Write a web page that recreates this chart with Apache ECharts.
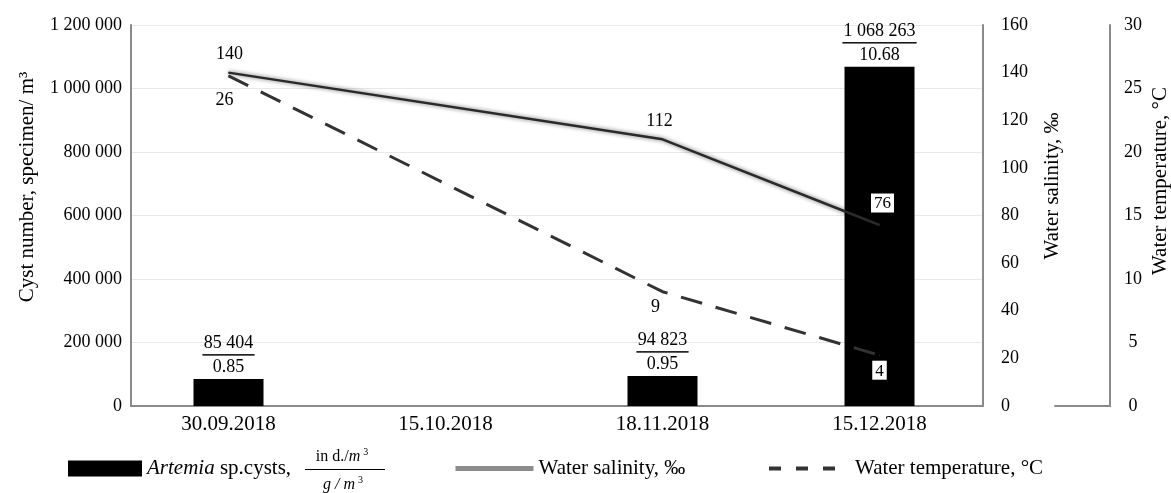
<!DOCTYPE html>
<html>
<head>
<meta charset="utf-8">
<script src="https://cdn.jsdelivr.net/npm/echarts@6/dist/echarts.min.js"></script>
<style>
html,body{margin:0;padding:0;background:#fff;}
#chart{width:1171px;height:493px;}
</style>
</head>
<body>
<div id="chart"></div>
<script>
const categories = ['30.09.2018', '15.10.2018', '18.11.2018', '15.12.2018'];
const cystCounts = [85404, null, 94823, 1068263];
const cystBiomass = [0.85, null, 0.95, 10.68];
const salinity = [140, null, 112, 76];
const temperature = [26, null, 9, 4];
const seriesNames = ['Artemia sp.cysts,', 'Water salinity, ‰', 'Water temperature, °C'];
const axisNames = ['Cyst number, specimen/ m³', 'Water salinity, ‰', 'Water temperature, °C'];
const cystAxis = {min: 0, max: 1200000, interval: 200000};
const salAxis = {min: 0, max: 160, interval: 20};
const tempAxis = {min: 0, max: 30, interval: 5};

const FONT = '"Liberation Serif", "Times New Roman", serif';
const fmtSpace = v => String(v).replace(/\B(?=(\d{3})+(?!\d))/g, ' ');
const AXIS_GRAY = '#8a8a8a';

const chart = echarts.init(document.getElementById('chart'));

const barData = cystCounts.map((v, i) => v == null ? null : {value: v, biomass: cystBiomass[i]});
const boxLabel = {
  color: '#000', backgroundColor: '#fff', borderColor: '#000', borderWidth: 1,
  padding: [2, 3, 0, 3], fontFamily: FONT, fontSize: 17
};
const salData = salinity.map((v, i) => {
  if (v == null) return null;
  if (i === salinity.length - 1) return {value: v, label: Object.assign({position: 'top', distance: 12, offset: [3, 0]}, boxLabel)};
  if (i === 0) return {value: v, label: {offset: [1, 0]}};
  return {value: v, label: {offset: [-3, 0]}};
});
const tempData = temperature.map((v, i) => {
  if (v == null) return null;
  if (i === temperature.length - 1) return {value: v, label: Object.assign({position: 'bottom', distance: 5, offset: [0, 0]}, boxLabel)};
  if (i === 0) return {value: v, label: {distance: 15, offset: [-4, 0]}};
  return {value: v, label: {distance: 6, offset: [-7, 0]}};
});

const hiddenY = r => ({type: 'value', gridIndex: 0, min: r.min, max: r.max, interval: r.interval, show: false, splitLine: {show: false}});

const option = {
  backgroundColor: '#fff',
  animation: false,
  grid: [
    {left: 120, right: 183, top: 25, bottom: 87},
    {left: 1055, right: 61, top: 25, bottom: 87},
    {left: 131, right: 188, top: 25, bottom: 87}
  ],
  xAxis: [
    {
      type: 'category', data: categories, gridIndex: 0, boundaryGap: true,
      axisLine: {show: false},
      axisTick: {show: false},
      axisLabel: {color: '#000', fontFamily: FONT, fontSize: 21, margin: 8}
    },
    {
      type: 'value', gridIndex: 1, min: 0, max: 1,
      axisLine: {show: true, lineStyle: {color: AXIS_GRAY, width: 2}},
      axisTick: {show: false}, axisLabel: {show: false}, splitLine: {show: false}
    },
    {
      type: 'value', gridIndex: 2, min: 0, max: 1,
      axisLine: {show: true, lineStyle: {color: AXIS_GRAY, width: 2}},
      axisTick: {show: false}, axisLabel: {show: false}, splitLine: {show: false}
    }
  ],
  yAxis: [
    hiddenY(cystAxis),
    hiddenY(salAxis),
    hiddenY(tempAxis),
    {type: 'value', gridIndex: 1, min: 0, max: 1, show: false},
    {
      type: 'value', gridIndex: 2, min: cystAxis.min, max: cystAxis.max, interval: cystAxis.interval, position: 'left',
      axisLine: {show: true, lineStyle: {color: AXIS_GRAY, width: 2}},
      axisTick: {show: false},
      axisLabel: {color: '#000', fontFamily: FONT, fontSize: 18, margin: 9, formatter: v => fmtSpace(v)},
      splitLine: {show: true, lineStyle: {color: '#e8e8e8', width: 1}}
    },
    {
      type: 'value', gridIndex: 2, min: salAxis.min, max: salAxis.max, interval: salAxis.interval, position: 'right',
      axisLine: {show: true, lineStyle: {color: AXIS_GRAY, width: 2}},
      axisTick: {show: false},
      axisLabel: {color: '#000', fontFamily: FONT, fontSize: 18, margin: 18},
      splitLine: {show: false}
    },
    {
      type: 'value', gridIndex: 2, min: tempAxis.min, max: tempAxis.max, interval: tempAxis.interval, position: 'right', offset: 127,
      axisLine: {show: true, lineStyle: {color: AXIS_GRAY, width: 2}},
      axisTick: {show: false},
      axisLabel: {color: '#000', fontFamily: FONT, fontSize: 18, margin: 23, align: 'center'},
      splitLine: {show: false}
    }
  ],
  legend: [
    {
      data: [{name: seriesNames[0], icon: 'rect'}], left: 63, top: 453,
      itemWidth: 74, itemHeight: 16,
      formatter: () => '{i|Artemia} sp.cysts,',
      textStyle: {color: '#000', fontFamily: FONT, fontSize: 21,
        rich: {i: {fontStyle: 'italic', fontFamily: FONT, fontSize: 21, color: '#000'}}}
    },
    {
      data: [{name: seriesNames[1], itemStyle: {opacity: 0},
        lineStyle: {color: '#8c8c8c', width: 5, shadowBlur: 0}}], left: 448, top: 453,
      itemWidth: 78, itemHeight: 16,
      textStyle: {color: '#000', fontFamily: FONT, fontSize: 21}
    },
    {
      data: [{name: seriesNames[2], itemStyle: {opacity: 0}, lineStyle: {type: [12, 15], width: 4}}], left: 762, top: 453,
      itemWidth: 81, itemHeight: 16,
      textStyle: {color: '#000', fontFamily: FONT, fontSize: 21}
    }
  ],
  graphic: [
    {type: 'text', x: 27, y: 187, rotation: Math.PI / 2,
      style: {text: axisNames[0], fill: '#000', font: '21px ' + FONT, align: 'center', verticalAlign: 'middle'}},
    {type: 'text', x: 1052, y: 186, rotation: Math.PI / 2,
      style: {text: axisNames[1], fill: '#000', font: '21px ' + FONT, align: 'center', verticalAlign: 'middle'}},
    {type: 'text', x: 1160, y: 181, rotation: Math.PI / 2,
      style: {text: axisNames[2], fill: '#000', font: '21px ' + FONT, align: 'center', verticalAlign: 'middle'}},
    {type: 'text', x: 342, y: 457,
      style: {text: '{u|in d./}{m|m}{s|3}', align: 'center', verticalAlign: 'middle',
        rich: {
          u: {fontFamily: FONT, fontSize: 16, fill: '#000', color: '#000'},
          m: {fontFamily: FONT, fontSize: 16, fontStyle: 'italic', fill: '#000', color: '#000'},
          s: {fontFamily: FONT, fontSize: 10, fill: '#000', color: '#000', verticalAlign: 'top', padding: [0, 0, 9, 3]}
        }}},
    {type: 'line', shape: {x1: 305, y1: 469.5, x2: 385, y2: 469.5}, style: {stroke: '#000', lineWidth: 1}},
    {type: 'text', x: 343, y: 485,
      style: {text: '{m|g / m}{s|3}', align: 'center', verticalAlign: 'middle',
        rich: {
          m: {fontFamily: FONT, fontSize: 16, fontStyle: 'italic', fill: '#000', color: '#000'},
          s: {fontFamily: FONT, fontSize: 10, fill: '#000', color: '#000', verticalAlign: 'top', padding: [0, 0, 9, 3]}
        }}}
  ],
  series: [
    {
      name: seriesNames[0], type: 'bar', xAxisIndex: 0, yAxisIndex: 0,
      data: barData, barWidth: 70,
      itemStyle: {color: '#000'},
      label: {
        show: true, position: 'top', distance: 0,
        formatter: p => {
          const s = fmtSpace(p.data.value);
          return '{a|' + s + '}\n{' + (s.length > 7 ? 'hrL' : 'hrS') + '|}\n{b|' + p.data.biomass.toFixed(2) + '}';
        },
        rich: {
          a: {fontFamily: FONT, fontSize: 18, color: '#000', lineHeight: 24, align: 'center'},
          hrS: {borderColor: '#000', width: 52, borderWidth: 1, height: 0, align: 'center'},
          hrL: {borderColor: '#000', width: 74, borderWidth: 1, height: 0, align: 'center'},
          b: {fontFamily: FONT, fontSize: 18, color: '#000', lineHeight: 24, align: 'center'}
        }
      },
      z: 1
    },
    {
      name: seriesNames[1], type: 'line', xAxisIndex: 0, yAxisIndex: 1,
      data: salData, connectNulls: true, symbol: 'circle', symbolSize: 1, showSymbol: true,
      lineStyle: {color: '#2a2a2a', width: 2.5, shadowColor: 'rgba(0,0,0,0.6)', shadowBlur: 4},
      itemStyle: {color: '#2a2a2a'},
      label: {show: true, position: 'top', distance: 9, color: '#000', fontFamily: FONT, fontSize: 18},
      z: 3
    },
    {
      name: seriesNames[2], type: 'line', xAxisIndex: 0, yAxisIndex: 2,
      data: tempData, connectNulls: true, symbol: 'circle', symbolSize: 1, showSymbol: true,
      lineStyle: {color: '#333', width: 3, type: [22, 14]},
      itemStyle: {color: '#333'},
      label: {show: true, position: 'bottom', color: '#000', fontFamily: FONT, fontSize: 18},
      z: 3
    }
  ]
};
chart.setOption(option);
</script>
</body>
</html>
